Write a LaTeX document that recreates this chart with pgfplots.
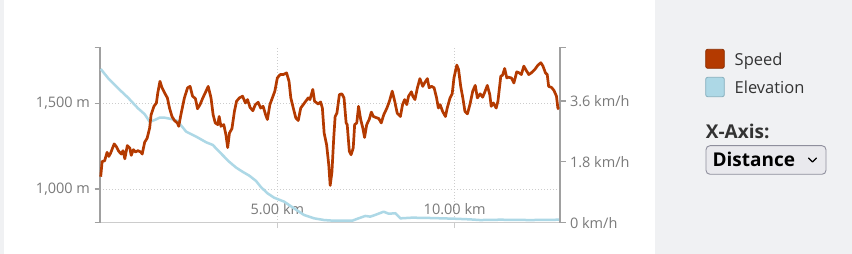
\documentclass[border=0pt]{standalone}
\usepackage{pgfplots}
\pgfplotsset{compat=1.18}
\usepackage{pgfplotstable}
\usepackage{fontspec}
\setmainfont{Open Sans}
\definecolor{speed}{HTML}{B43A00}
\definecolor{speeddark}{HTML}{8A2C00}
\definecolor{elev}{HTML}{ADD8E6}
\definecolor{elevdark}{HTML}{86AFBD}
\definecolor{tickgray}{HTML}{7A7A7A}
\definecolor{axisgray}{HTML}{A0A0A0}
\definecolor{gridgray}{HTML}{CCCCCC}
\definecolor{panel}{HTML}{F0F1F3}
\definecolor{txt}{HTML}{333333}
\definecolor{selbg}{HTML}{E9E9ED}
\definecolor{selbd}{HTML}{8F8F9D}

\pgfplotstableread{
km v
0.02 1.36
0.06 1.81
0.13 1.83
0.20 2.08
0.25 1.96
0.30 2.06
0.40 2.33
0.46 2.25
0.53 2.11
0.60 2.03
0.65 2.13
0.70 1.89
0.77 2.28
0.84 2.21
0.88 1.99
0.94 2.16
1.00 2.09
1.07 2.13
1.15 2.09
1.19 2.03
1.26 2.38
1.33 2.50
1.40 2.80
1.44 3.19
1.52 3.44
1.59 3.54
1.63 3.84
1.69 4.18
1.75 3.99
1.82 3.84
1.90 3.69
1.96 3.39
2.03 3.14
2.10 3.02
2.18 2.95
2.22 2.85
2.28 3.19
2.38 3.69
2.47 3.99
2.54 4.03
2.61 3.74
2.69 3.67
2.75 3.37
2.82 3.49
2.90 3.69
2.99 3.89
3.05 4.03
3.13 3.69
3.19 3.19
3.25 2.95
3.32 2.90
3.36 3.14
3.41 2.85
3.49 2.90
3.55 2.60
3.60 2.22
3.65 2.65
3.72 2.78
3.79 3.29
3.85 3.59
3.93 3.69
4.02 3.74
4.10 3.54
4.16 3.64
4.23 3.41
4.31 3.31
4.38 3.49
4.46 3.56
4.53 3.39
4.60 3.44
4.67 3.19
4.72 3.05
4.79 3.49
4.86 3.69
4.93 3.89
5.00 4.28
5.08 4.38
5.17 4.38
5.26 4.43
5.33 4.18
5.38 3.69
5.45 3.39
5.52 3.10
5.59 3.02
5.66 3.39
5.73 3.49
5.80 3.59
5.87 3.69
5.92 3.64
6.00 3.94
6.05 3.59
6.15 3.51
6.22 3.57
6.27 3.39
6.32 2.65
6.39 2.30
6.45 1.71
6.49 1.10
6.54 1.50
6.59 2.50
6.63 3.14
6.68 3.24
6.75 3.79
6.82 3.81
6.88 3.69
6.94 2.95
6.97 2.90
7.03 2.11
7.08 2.01
7.14 2.21
7.18 2.90
7.24 2.95
7.29 3.44
7.35 3.05
7.41 2.80
7.46 2.52
7.52 2.90
7.59 3.05
7.65 3.27
7.71 3.14
7.78 3.11
7.86 3.08
7.93 2.95
8.00 3.19
8.09 3.39
8.16 3.59
8.24 3.89
8.31 3.59
8.38 3.24
8.47 3.14
8.53 3.49
8.59 3.64
8.65 3.49
8.70 3.74
8.78 3.87
8.82 3.74
8.88 3.64
8.95 3.99
9.02 4.26
9.10 4.03
9.15 4.13
9.23 4.26
9.28 3.99
9.35 4.03
9.42 3.99
9.49 3.69
9.54 3.39
9.59 3.49
9.66 3.29
9.74 3.14
9.79 3.39
9.87 3.69
9.93 3.81
9.98 4.28
10.06 4.66
10.11 4.53
10.17 4.03
10.23 3.69
10.29 3.29
10.36 3.22
10.43 3.49
10.51 3.89
10.58 4.06
10.64 3.69
10.72 3.81
10.79 3.71
10.86 3.89
10.92 4.06
10.99 3.79
11.03 3.44
11.09 3.54
11.17 3.39
11.22 3.59
11.30 4.33
11.35 4.36
11.41 4.56
11.47 4.28
11.52 4.30
11.60 4.28
11.67 4.13
11.75 4.46
11.82 4.43
11.88 4.38
11.95 4.63
12.02 4.50
12.09 4.38
12.16 4.43
12.26 4.53
12.35 4.66
12.43 4.73
12.49 4.63
12.56 4.43
12.61 4.38
12.65 4.03
12.73 4.00
12.80 3.91
12.87 3.74
12.91 3.39
12.94 3.36
}\speedtable

\pgfplotstableread{
km e
0.02 1703
0.23 1649
0.51 1590
0.79 1535
1.07 1473
1.26 1438
1.40 1394
1.54 1404
1.68 1418
1.82 1418
2.01 1410
2.18 1399
2.43 1336
2.71 1307
2.99 1274
3.18 1258
3.36 1219
3.64 1160
3.84 1125
4.02 1101
4.21 1078
4.40 1047
4.53 1013
4.72 975
4.91 949
5.19 926
5.47 887
5.75 848
6.04 828
6.32 818
6.60 814
7.11 814
7.29 828
7.48 842
7.62 838
7.76 848
8.00 867
8.14 855
8.33 858
8.47 828
8.80 832
9.31 830
9.98 826
10.43 822
10.72 818
11.28 820
12.13 818
12.94 820
}\elevtable

\begin{document}
\begin{tikzpicture}[x=1pt,y=1pt]
\useasboundingbox (0,0) rectangle (852,254);
\fill[white] (0,0) rectangle (852,254);
\fill[panel] (655,0) rectangle (852,254);
\fill[panel] (0,0) rectangle (4,254);

% Elevation axis (left)
\begin{axis}[
  at={(100pt,31.3pt)}, anchor=south west,
  scale only axis, width=460pt, height=175.2pt,
  xmin=0, xmax=12.97, ymin=802.5, ymax=1829,
  axis y line*=left, axis x line*=bottom,
  axis line style={axisgray, line width=1.3pt},
  x axis line style={draw=gridgray, line width=1pt},
  xtick={5,10}, xticklabels={5.00 km,10.00 km},
  ytick={1000,1500}, yticklabels={{1,000 m},{1,500 m}},
  extra y ticks={802.5,1829}, extra y tick labels={},
  extra y tick style={grid=none},
  tick align=outside,
  major tick length=5.5pt,
  x tick style={draw=gridgray, line width=1pt},
  y tick style={draw=axisgray, line width=1.3pt},
  ymajorgrids, xmajorgrids,
  grid style={gridgray, line width=0.9pt, dash pattern=on 1pt off 2pt},
  tick label style={font=\fontsize{14.5}{16}\selectfont, text=tickgray},
  yticklabel style={xshift=-1pt},
  xticklabel style={anchor=base, yshift=14pt},
  clip=false,
]
\addplot[elev, line width=2.5pt, line join=round] table[x=km, y=e] {\elevtable};
\end{axis}

% Speed axis (right)
\begin{axis}[
  at={(100pt,31.3pt)}, anchor=south west,
  scale only axis, width=460pt, height=175.2pt,
  xmin=0, xmax=12.97, ymin=0, ymax=5.18,
  axis y line*=right, axis x line=none,
  axis line style={axisgray, line width=1.3pt},
  ytick={0,1.8,3.6}, yticklabels={0 km/h,1.8 km/h,3.6 km/h},
  extra y ticks={5.18}, extra y tick labels={},
  tick align=outside, major tick length=5.5pt,
  y tick style={draw=axisgray, line width=1.3pt},
  tick label style={font=\fontsize{14.5}{16}\selectfont, text=tickgray},
  yticklabel style={xshift=1pt},
  clip=false,
]
\addplot[speed, line width=2.7pt, line join=round] table[x=km, y=v] {\speedtable};
\end{axis}

% Legend
\draw[speeddark, fill=speed, rounded corners=2pt, line width=0.8pt] (705.7,204.7) rectangle (724.3,185.7);
\draw[elevdark, fill=elev, rounded corners=2pt, line width=0.8pt] (705.7,176.7) rectangle (724.3,157.3);
\node[anchor=base west, inner sep=0pt, text=txt, font=\fontsize{16.5}{18}\selectfont] at (734.5,188) {Speed};
\node[anchor=base west, inner sep=0pt, text=txt, font=\fontsize{16.5}{18}\selectfont] at (734.5,160) {Elevation};
\node[anchor=base west, inner sep=0pt, text=txt, font=\fontsize{19}{21}\selectfont\bfseries] at (705.7,115) {X-Axis:};
% Dropdown
\draw[selbd, fill=selbg, rounded corners=4pt, line width=0.9pt] (706,108.3) rectangle (826,79.7);
\node[anchor=base west, inner sep=0pt, text=black, font=\fontsize{19}{21}\selectfont\bfseries] at (712.3,87.3) {Distance};
\draw[black, line width=1.3pt, line cap=round, line join=round] (808.5,96) -- (812.5,92) -- (816.5,96);
\end{tikzpicture}
\end{document}
